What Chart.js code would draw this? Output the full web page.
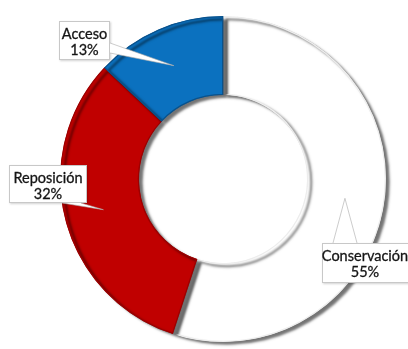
<!DOCTYPE html>
<html>
<head>
<meta charset="utf-8">
<script src="https://cdn.jsdelivr.net/npm/chart.js@4/dist/chart.umd.min.js"></script>
<style>
  html, body { margin: 0; padding: 0; background: #ffffff; overflow: hidden; }
  #wrap { width: 408px; height: 349px; position: relative; }
</style>
</head>
<body>
<div id="wrap"><canvas id="c"></canvas></div>
<script>
// Budget split by category (percent)
const categories = ['Conservación', 'Reposición', 'Acceso'];
const shares = [55, 32, 13];
const sliceColors = ['#ffffff', '#c00000', '#0b71bf'];
const edgeColors = ['#ededed', '#9c0000', '#0a528c'];

// Callout boxes: rectangle plus the two points where the pointer leaves the box
const calloutBoxes = [
  { x: 322, y: 243, w: 92, h: 40, base: [[333, 243], [357, 243]] },
  { x: 9, y: 165, w: 78, h: 38, base: [[62, 203], [81, 203]] },
  { x: 59, y: 21, w: 51, h: 39, base: [[110, 43], [110, 53]] }
];

// Drop shadow under the ring
const ringShadow = {
  id: 'ringShadow',
  beforeDatasetsDraw(chart) {
    const ctx = chart.ctx;
    ctx.save();
    ctx.shadowColor = 'rgba(0,0,0,0.55)';
    ctx.shadowBlur = 2.5;
    ctx.shadowOffsetX = 4;
    ctx.shadowOffsetY = 3;
  },
  afterDatasetsDraw(chart) {
    chart.ctx.restore();
  }
};

// Label callouts pointing at the middle of each slice
const callouts = {
  id: 'callouts',
  afterDatasetsDraw(chart) {
    const ctx = chart.ctx;
    const meta = chart.getDatasetMeta(0);
    const total = shares.reduce((a, b) => a + b, 0);
    meta.data.forEach((arc, i) => {
      const box = calloutBoxes[i];
      const tip = arc.getCenterPoint();
      const [b1, b2] = box.base;
      ctx.save();
      // box
      ctx.shadowColor = 'rgba(0,0,0,0.18)';
      ctx.shadowBlur = 2;
      ctx.shadowOffsetX = 1;
      ctx.shadowOffsetY = 1;
      ctx.fillStyle = '#ffffff';
      ctx.fillRect(box.x, box.y, box.w, box.h);
      ctx.shadowColor = 'transparent';
      ctx.strokeStyle = '#c8c8c8';
      ctx.lineWidth = 1;
      ctx.strokeRect(box.x + 0.5, box.y + 0.5, box.w - 1, box.h - 1);
      // pointer
      ctx.beginPath();
      ctx.moveTo(b1[0], b1[1]);
      ctx.lineTo(tip.x, tip.y);
      ctx.lineTo(b2[0], b2[1]);
      ctx.closePath();
      ctx.fillStyle = '#ffffff';
      ctx.fill();
      ctx.beginPath();
      ctx.moveTo(b1[0], b1[1]);
      ctx.lineTo(tip.x, tip.y);
      ctx.lineTo(b2[0], b2[1]);
      ctx.strokeStyle = 'rgba(170,170,170,0.6)';
      ctx.stroke();
      // text
      const pct = Math.round(shares[i] / total * 100) + '%';
      ctx.fillStyle = '#151515';
      ctx.strokeStyle = '#151515';
      ctx.lineWidth = 0.3;
      ctx.font = '14.5px Lato';
      ctx.textAlign = 'center';
      ctx.textBaseline = 'alphabetic';
      const cx = box.x + Math.min(box.w, 408 - box.x) / 2;
      ctx.fillText(categories[i], cx, box.y + 18);
      ctx.strokeText(categories[i], cx, box.y + 18);
      ctx.fillText(pct, cx, box.y + 34);
      ctx.strokeText(pct, cx, box.y + 34);
      ctx.restore();
    });
  }
};

new Chart(document.getElementById('c'), {
  type: 'doughnut',
  data: {
    labels: categories,
    datasets: [{
      data: shares,
      backgroundColor: sliceColors,
      borderColor: edgeColors,
      borderWidth: 1,
      borderAlign: 'inner'
    }]
  },
  options: {
    responsive: true,
    maintainAspectRatio: false,
    animation: false,
    radius: 163,
    cutout: '51.5%',
    rotation: 0,
    layout: { padding: { left: 38, right: 0, top: 9, bottom: 0 } },
    plugins: {
      legend: { display: false },
      tooltip: { enabled: false }
    }
  },
  plugins: [ringShadow, callouts]
});
</script>
</body>
</html>
